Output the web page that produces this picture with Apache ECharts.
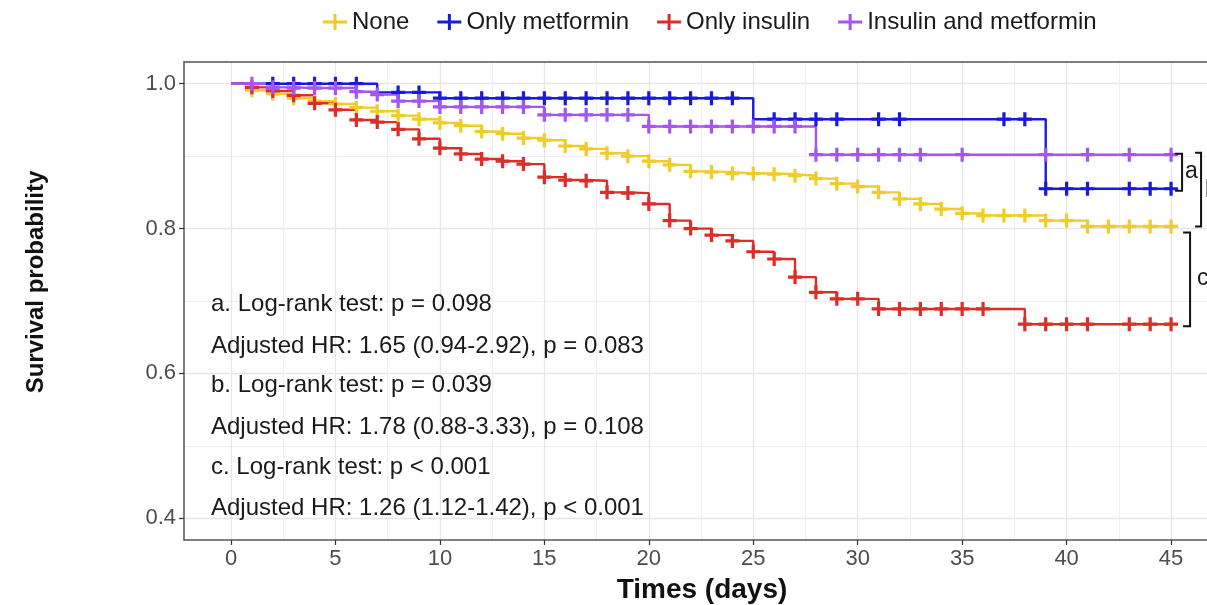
<!DOCTYPE html>
<html><head><meta charset="utf-8">
<script src="https://cdn.jsdelivr.net/npm/echarts@6/dist/echarts.min.js"></script>
<style>html,body{margin:0;padding:0;background:#fff}#c{width:1207px;height:605px}</style>
</head><body><div id="c"></div>
<script>
const seriesNames = ['None', 'Only metformin', 'Only insulin', 'Insulin and metformin'];
const seriesColors = ['#F0CC28', '#1A1ADC', '#DC2D28', '#A555F0'];
const days = [0,1,2,3,4,5,6,7,8,9,10,11,12,13,14,15,16,17,18,19,20,21,22,23,24,25,26,27,28,29,30,31,32,33,34,35,36,37,38,39,40,41,42,43,44,45];
const survNone = [1.0,0.991,0.986,0.980,0.976,0.972,0.967,0.962,0.956,0.951,0.946,0.942,0.934,0.931,0.925,0.922,0.914,0.910,0.904,0.900,0.893,0.888,0.879,0.878,0.876,0.876,0.875,0.873,0.869,0.862,0.858,0.850,0.841,0.834,0.827,0.821,0.818,0.818,0.818,0.811,0.811,0.803,0.803,0.803,0.803,0.803];
const survMetformin = [1.0,1.0,1.0,1.0,1.0,1.0,1.0,0.988,0.988,0.988,0.980,0.980,0.980,0.980,0.980,0.980,0.980,0.980,0.980,0.980,0.980,0.980,0.980,0.980,0.980,0.951,0.951,0.951,0.951,0.951,0.951,0.951,0.951,0.951,0.951,0.951,0.951,0.951,0.951,0.855,0.855,0.855,0.855,0.855,0.855,0.855];
const survInsulin = [1.0,0.995,0.990,0.984,0.973,0.964,0.950,0.947,0.937,0.924,0.911,0.903,0.896,0.893,0.889,0.871,0.867,0.866,0.850,0.849,0.834,0.811,0.800,0.791,0.783,0.768,0.758,0.733,0.712,0.703,0.703,0.689,0.689,0.689,0.689,0.689,0.689,0.689,0.668,0.668,0.668,0.668,0.668,0.668,0.668,0.668];
const survBoth = [1.0,1.0,0.995,0.994,0.994,0.994,0.989,0.985,0.976,0.976,0.968,0.968,0.968,0.968,0.968,0.957,0.957,0.957,0.957,0.957,0.941,0.941,0.941,0.941,0.941,0.941,0.941,0.941,0.902,0.902,0.902,0.902,0.902,0.902,0.902,0.902,0.902,0.902,0.902,0.902,0.902,0.902,0.902,0.902,0.902,0.902];
const censorNone = [1,2,3,4,5,6,7,8,9,10,11,12,13,14,15,16,17,18,19,20,21,22,23,24,25,26,27,28,29,30,31,32,33,34,35,36,37,38,39,40,41,42,43,44,45];
const censorMetformin = [2,3,4,5,6,8,9,10,11,12,13,14,15,16,17,18,19,20,21,22,23,24,26,27,28,29,31,32,37,38,39,40,41,43,44,45];
const censorInsulin = [1,2,3,4,5,6,7,8,9,10,11,12,13,14,15,16,17,18,19,20,21,22,23,24,25,26,27,28,29,30,31,32,33,34,35,36,38,39,40,41,43,44,45];
const censorBoth = [1,2,3,4,5,6,7,8,9,10,11,12,13,14,15,16,17,18,19,20,21,22,23,24,25,26,27,28,29,30,31,32,33,35,39,41,43,45];
const xTicks = [0,5,10,15,20,25,30,35,40,45];
const xMinorTicks = [2.5,7.5,12.5,17.5,22.5,27.5,32.5,37.5,42.5];
const yTicks = [0.4,0.6,0.8,1.0];
const yMinorTicks = [0.5,0.7,0.9];
const annotations = [
  'a. Log-rank test: p = 0.098',
  'Adjusted HR: 1.65 (0.94-2.92), p = 0.083',
  'b. Log-rank test: p = 0.039',
  'Adjusted HR: 1.78 (0.88-3.33), p = 0.108',
  'c. Log-rank test: p < 0.001',
  'Adjusted HR: 1.26 (1.12-1.42), p < 0.001'
];
const annotationY = [304, 346, 385, 427, 467, 508];
const bracketLabels = ['a', 'b', 'c'];
const xTitle = 'Times (days)';
const yTitle = 'Survival probability';

const survAll = [survNone, survMetformin, survInsulin, survBoth];
const censorAll = [censorNone, censorMetformin, censorInsulin, censorBoth];
const plusPath = 'path://M3.85,0H6.15V3.85H10V6.15H6.15V10H3.85V6.15H0V3.85H3.85Z';
const legendPath = 'path://M0,6.5H24V9.5H0Z M10.5,0H13.5V16H10.5Z';
const FONT = 'Liberation Sans, Arial, sans-serif';
const BORDER = {color: '#555', width: 1.5};

const chart = echarts.init(document.getElementById('c'), null, {renderer: 'canvas'});
const series = [];
seriesNames.forEach((name, k) => {
  series.push({
    type: 'line', name, step: 'end', symbol: 'none', showSymbol: false,
    data: days.map((d, i) => [d, survAll[k][i]]),
    lineStyle: {width: 2.4, color: seriesColors[k]},
    itemStyle: {color: seriesColors[k]},
    z: 2, silent: true, animation: false
  });
});
seriesNames.forEach((name, k) => {
  series.push({
    type: 'scatter', name, symbol: plusPath, symbolSize: 14,
    data: censorAll[k].map(d => [d, survAll[k][days.indexOf(d)]]),
    itemStyle: {color: seriesColors[k], opacity: 1},
    z: 3, silent: true, animation: false
  });
});

const option = {
  animation: false,
  backgroundColor: '#fff',
  grid: {left: 184, top: 62, right: 0, height: 478, show: false, containLabel: false},
  legend: {
    top: 5, left: 318, itemWidth: 24, itemHeight: 16, itemGap: 28,
    textStyle: {fontSize: 24, color: '#1a1a1a', fontFamily: FONT},
    data: seriesNames.map(n => ({name: n, icon: legendPath}))
  },
  xAxis: [{
    type: 'value', min: -2.25, max: 46.72,
    axisLine: {show: true, onZero: false, lineStyle: BORDER},
    axisTick: {show: true, customValues: xTicks, length: 5, lineStyle: {color: '#333', width: 1.2}},
    axisLabel: {customValues: xTicks, fontSize: 22, color: '#4D4D4D', margin: 8, fontFamily: FONT},
    splitLine: {show: true, lineStyle: {color: '#E6E6E6', width: 1.3}}
  }, {
    type: 'value', min: -2.25, max: 46.72, position: 'top',
    axisLine: {show: true, onZero: false, lineStyle: BORDER}, axisLabel: {show: false},
    axisTick: {show: false, customValues: xMinorTicks},
    splitLine: {show: true, lineStyle: {color: '#F0F0F0', width: 1}}
  }],
  yAxis: [{
    type: 'value', min: 0.37, max: 1.03,
    axisLine: {show: true, onZero: false, lineStyle: BORDER},
    axisTick: {show: true, customValues: yTicks, length: 5, lineStyle: {color: '#333', width: 1.2}},
    axisLabel: {customValues: yTicks, fontSize: 22, color: '#4D4D4D', margin: 8, fontFamily: FONT,
      formatter: v => Number(v).toFixed(1)},
    splitLine: {show: true, lineStyle: {color: '#E6E6E6', width: 1.3}}
  }, {
    type: 'value', min: 0.37, max: 1.03, position: 'right',
    axisLine: {show: false, onZero: false}, axisLabel: {show: false},
    axisTick: {show: false, customValues: yMinorTicks},
    splitLine: {show: true, lineStyle: {color: '#F0F0F0', width: 1}}
  }],
  series
};
chart.setOption(option);

// titles, annotations and brackets
const graphics = annotations.map((t, i) => ({
  type: 'text', x: 211, y: annotationY[i], z: 10, silent: true,
  style: {text: t, fontSize: 24, fill: '#1a1a1a', fontFamily: FONT, verticalAlign: 'middle'}
}));
graphics.push({type: 'text', x: 702, y: 590, z: 10, silent: true,
  style: {text: xTitle, fontSize: 28, fontWeight: 'bold', fill: '#111', fontFamily: FONT, align: 'center', verticalAlign: 'middle'}});
graphics.push({type: 'text', x: 36, y: 282, rotation: Math.PI / 2, z: 10, silent: true,
  style: {text: yTitle, fontSize: 24, fontWeight: 'bold', fill: '#111', fontFamily: FONT, align: 'center', verticalAlign: 'middle'}});
const px = (x, y) => chart.convertToPixel({gridIndex: 0}, [x, y]);
const last = arr => arr[arr.length - 1];
const yBoth = px(45, last(survBoth))[1];
const yMet = px(45, last(survMetformin))[1];
const yNone = px(45, last(survNone))[1];
const yIns = px(45, last(survInsulin))[1];
const x45 = px(45, 1)[0];
function bracket(x0, x1, ya, yb) {
  return {type: 'polyline', z: 10, silent: true,
    shape: {points: [[x0, ya], [x1, ya], [x1, yb], [x0, yb]]},
    style: {stroke: '#111', lineWidth: 2, fill: null}};
}
graphics.push(bracket(x45 + 4, x45 + 11, yBoth - 1, yMet + 2));
graphics.push({type: 'text', x: x45 + 14, y: (yBoth + yMet) / 2, z: 10, silent: true,
  style: {text: bracketLabels[0], fontSize: 23, fill: '#1a1a1a', fontFamily: FONT, verticalAlign: 'middle'}});
graphics.push(bracket(x45 + 24, x45 + 30, yBoth - 2, yNone));
graphics.push({type: 'text', x: x45 + 34, y: (yBoth + yNone) / 2, z: 10, silent: true,
  style: {text: bracketLabels[1], fontSize: 23, fill: '#1a1a1a', fontFamily: FONT, verticalAlign: 'middle'}});
graphics.push(bracket(x45 + 12, x45 + 19, yNone + 6, yIns + 2));
graphics.push({type: 'text', x: x45 + 26, y: (yNone + 6 + yIns) / 2, z: 10, silent: true,
  style: {text: bracketLabels[2], fontSize: 23, fill: '#1a1a1a', fontFamily: FONT, verticalAlign: 'middle'}});
chart.setOption({graphic: graphics});
</script>
</body></html>
